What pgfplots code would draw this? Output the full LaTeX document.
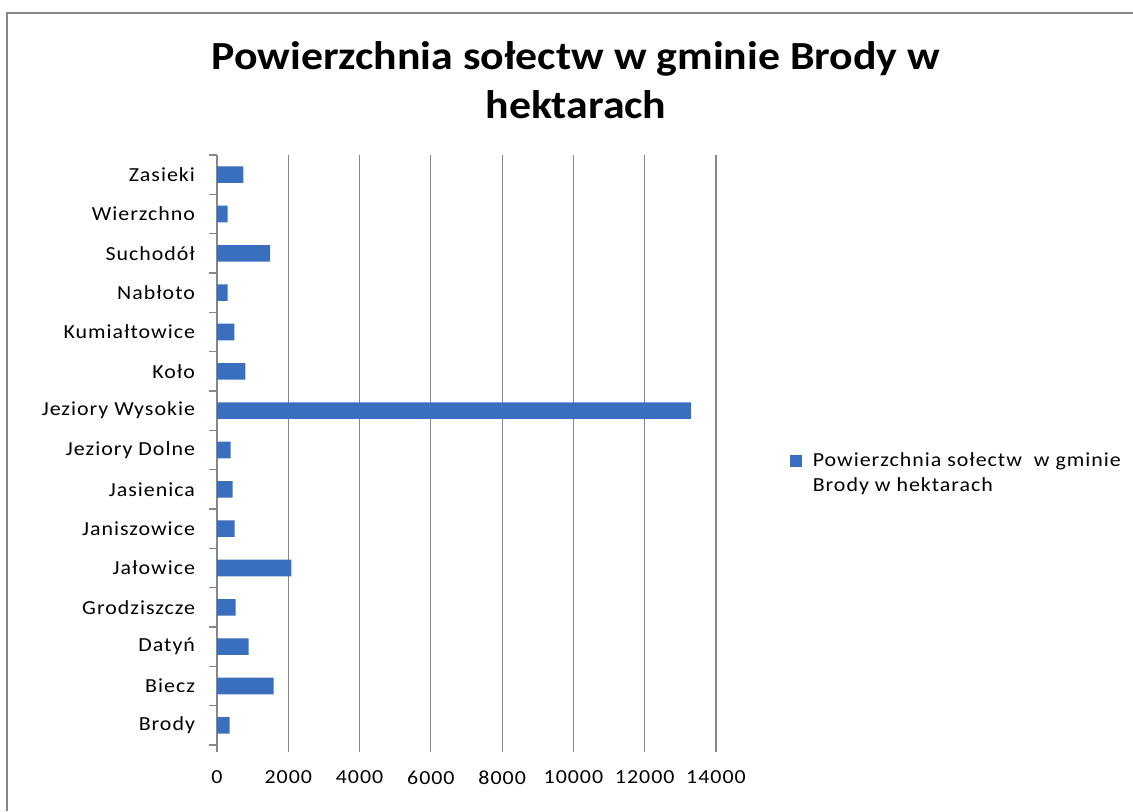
\documentclass[border=0pt]{standalone}
\usepackage{fontspec}
\setmainfont{Carlito}
\newfontfamily\widefont[FakeStretch=1.1,LetterSpace=5]{Carlito}
\newfontfamily\titlefont[FakeStretch=1.1]{Carlito}
\usepackage{pgfplots}
\pgfplotsset{compat=1.18}
\definecolor{barblue}{HTML}{3A6FBF}
\definecolor{gridgray}{HTML}{878787}

\begin{document}
\begin{tikzpicture}[x=0.75bp,y=0.75bp]
\useasboundingbox (0,0) rectangle (1133,811);
% chart frame (top and left edges visible)
\draw[gridgray,line width=1.5bp] (7,0) -- (7,798) -- (1133,798);
\node[font=\titlefont\fontsize{30}{37}\selectfont\bfseries,align=center,anchor=base]
  at (576,692) {Powierzchnia sołectw w gminie Brody w\\hektarach};
\begin{axis}[
    at={(162.75bp,49.5bp)},
    anchor=south west,
    scale only axis,
    width=374.25bp,
    height=442.5bp,
    xbar,
    bar width=0.42,
    xmin=0, xmax=14000,
    xtick={0,2000,...,14000},
    ymin=-0.5, ymax=14.5,
    ytick={0,...,14},
    yticklabels={Brody,Biecz,Datyń,Grodziszcze,Jałowice,Janiszowice,Jasienica,Jeziory Dolne,Jeziory Wysokie,Koło,Kumiałtowice,Nabłoto,Suchodół,Wierzchno,Zasieki},
    minor ytick={-0.5,0.5,...,14.5},
    major tick length=5bp,
    minor tick length=6bp,
    every major y tick/.append style={draw=none},
    axis x line*=bottom,
    axis y line*=left,
    x axis line style={draw=none},
    y axis line style={draw=gridgray,line width=1bp},
    xmajorgrids=true,
    grid style={draw=gridgray,line width=0.9bp},
    major tick style={draw=gridgray,line width=0.9bp},
    minor tick style={draw=gridgray,line width=1bp},
    tick align=outside,
    xticklabel style={yshift=-11bp},
    yticklabel style={xshift=-8bp},
    tick label style={font=\widefont\fontsize{15}{15}\selectfont},
    /pgf/number format/assume math mode=true,
    scaled x ticks=false,
    xticklabel={\pgfmathprintnumber[fixed,1000 sep={}]{\tick}},
    legend style={at={(1.14,0.461)},anchor=west,draw=none,fill=none,
        font=\widefont\fontsize{15}{19}\selectfont,cells={align=left}},
    legend image code/.code={\fill[barblue] (0bp,4.5bp) rectangle (9bp,13.5bp);
        \path (15bp,9bp);},
    clip=false,
]
\addplot+[xbar,draw=none,fill=barblue] coordinates {
(355,0) (1586,1) (887,2) (523,3) (2090,4) (495,5) (440,6) (383,7)
(13300,8) (797,9) (490,10) (297,11) (1490,12) (297,13) (740,14)
};
\addlegendentry{Powierzchnia sołectw \ w gminie\\Brody w hektarach}
\end{axis}
\end{tikzpicture}
\end{document}
